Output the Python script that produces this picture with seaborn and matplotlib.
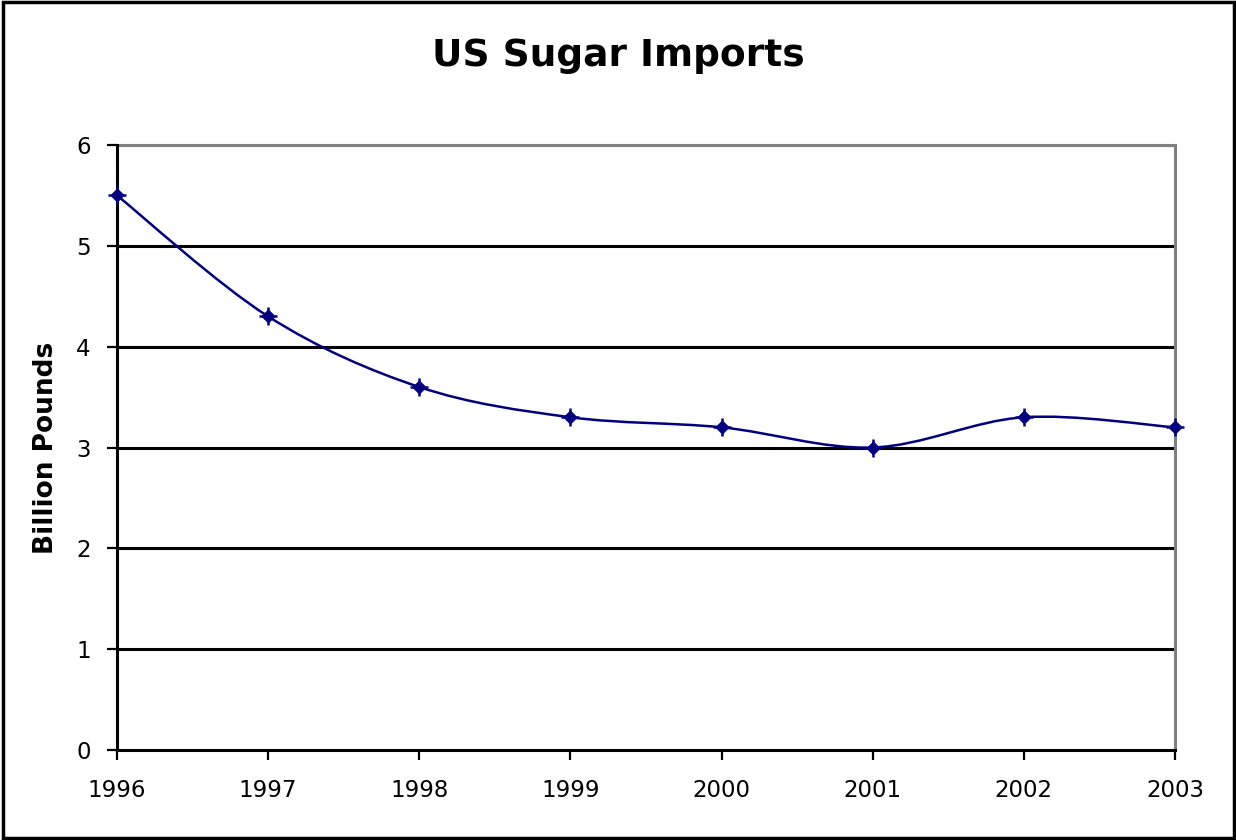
import numpy as np
import matplotlib
matplotlib.use("Agg")
import matplotlib.pyplot as plt
from matplotlib.path import Path
from matplotlib.patches import PathPatch, Rectangle
import seaborn as sns
import pandas as pd

years = [1996, 1997, 1998, 1999, 2000, 2001, 2002, 2003]
imports = [5.5, 4.3, 3.6, 3.3, 3.2, 3.0, 3.3, 3.2]
y_ticks = [0, 1, 2, 3, 4, 5, 6]
title = "US Sugar Imports"
y_label = "Billion Pounds"

sns.set_theme(style="white")
plt.rcParams["font.family"] = ["DejaVu Sans"]

navy = "#000080"
grey = "#808080"

fig = plt.figure(figsize=(12.36, 8.4), dpi=100)
ax = fig.add_axes([117 / 1236, 1 - 750 / 840, (1175 - 117) / 1236, (750 - 145) / 840])

df = pd.DataFrame({"year": years, "imports": imports})

# smoothed line: cubic Bezier segments through each point (Catmull-Rom control points)
pts = np.column_stack([np.array(years, float), np.array(imports, float)])
ext = np.vstack([pts[0], pts, pts[-1]])
verts = [tuple(pts[0])]
codes = [Path.MOVETO]
for i in range(len(pts) - 1):
    p0, p1, p2, p3 = ext[i], ext[i + 1], ext[i + 2], ext[i + 3]
    c1 = p1 + (p2 - p0) / 6.0
    c2 = p2 - (p3 - p1) / 6.0
    verts += [tuple(c1), tuple(c2), tuple(p2)]
    codes += [Path.CURVE4] * 3
ax.add_patch(PathPatch(Path(verts, codes), facecolor="none", edgecolor=navy,
                       lw=1.8, zorder=4, clip_on=False))

# markers: small diamond with a cross through it
sns.scatterplot(data=df, x="year", y="imports", marker="D", s=55, color=navy,
                edgecolor=navy, linewidth=0, ax=ax, zorder=5, clip_on=False)
sns.scatterplot(data=df, x="year", y="imports", marker="+", s=150, color=navy,
                linewidth=1.8, ax=ax, zorder=5, clip_on=False)

ax.set_xlim(years[0], years[-1])
ax.set_ylim(0, 6)
ax.set_xticks(years)
ax.set_xticklabels([str(y) for y in years])
ax.set_yticks(y_ticks)
ax.set_yticklabels([str(t) for t in y_ticks])

ax.grid(False)
for t in y_ticks[1:]:
    ax.axhline(t, color="black", lw=2.2, zorder=2)

ax.spines["left"].set_color("black")
ax.spines["bottom"].set_color("black")
ax.spines["top"].set_color(grey)
ax.spines["right"].set_color(grey)
for s in ax.spines.values():
    s.set_linewidth(2.2)
ax.spines["left"].set_zorder(3)
ax.spines["bottom"].set_zorder(3)

ax.tick_params(axis="both", which="major", direction="out", length=7, width=1.6,
               color="black", labelsize=16.5, labelcolor="black",
               left=True, bottom=True)
ax.tick_params(axis="y", pad=12)
ax.tick_params(axis="x", pad=14)

ax.set_xlabel("")
ax.set_ylabel(y_label, fontsize=19, fontweight="bold", color="black")
ax.yaxis.set_label_coords((59 - 117) / 1058, 0.5)

fig.text(0.5, 1 - 66 / 840, title, ha="center", va="baseline",
         fontsize=27, fontweight="bold", color="black")

# outer chart border
fig.patches.append(Rectangle((0.0025, 0.002), 0.9955, 0.996, transform=fig.transFigure,
                             fill=False, edgecolor="black", lw=2.5))

fig.savefig("out.png", dpi=100, facecolor="white")
